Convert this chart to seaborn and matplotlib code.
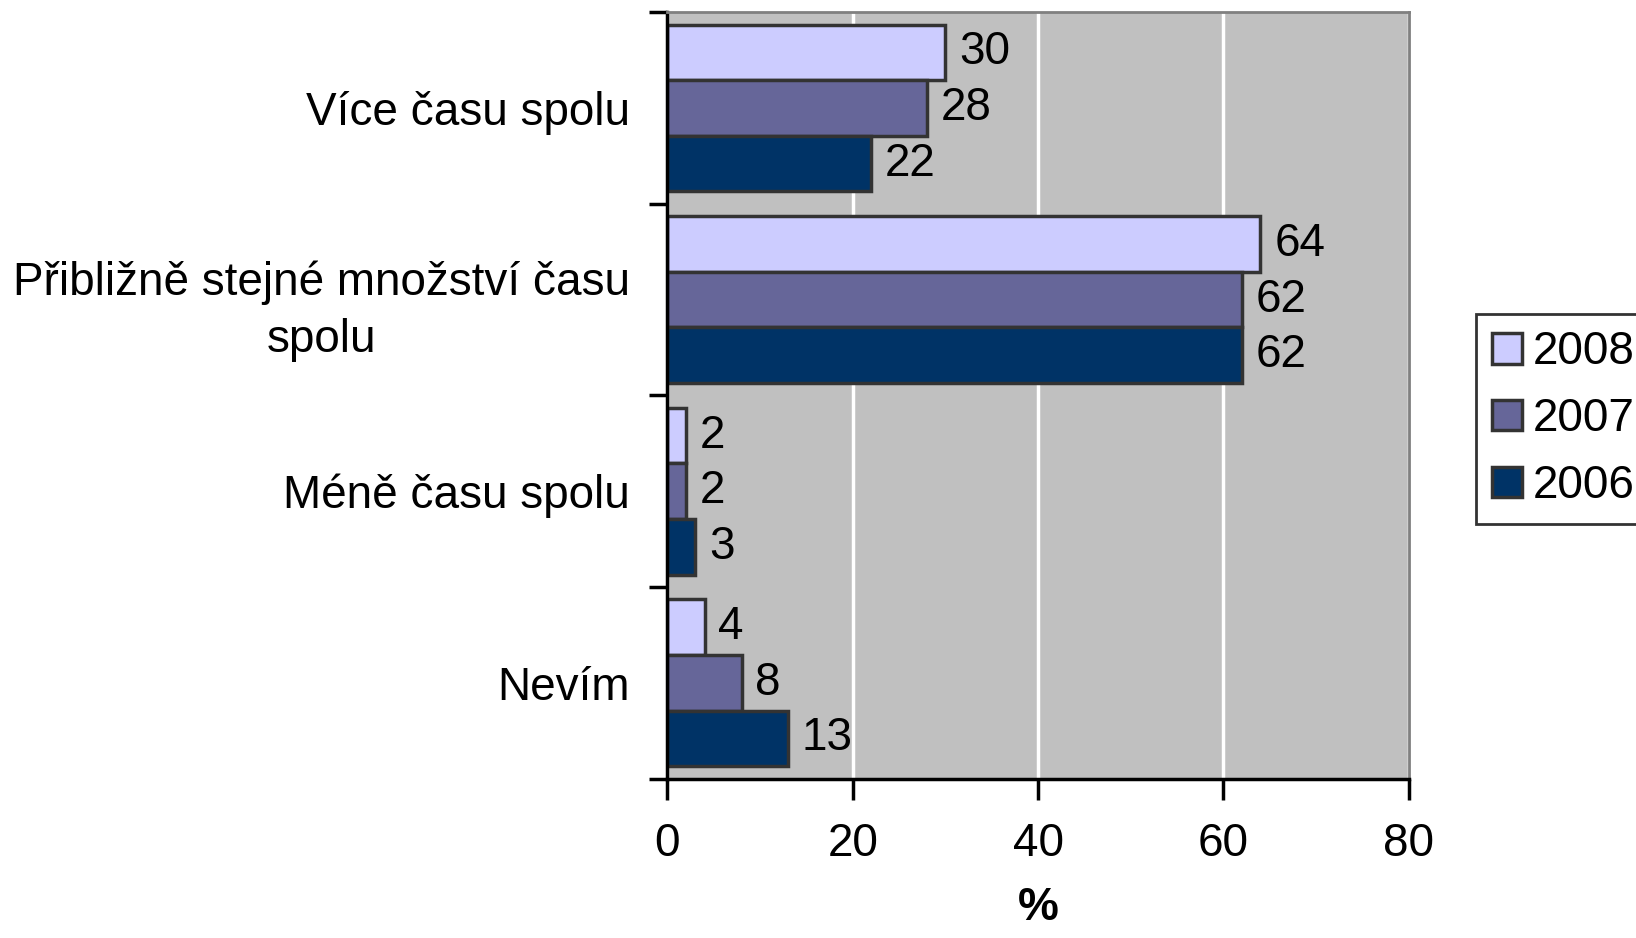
import numpy as np
import pandas as pd
import seaborn as sns
import matplotlib.pyplot as plt

# Data
categories = ['Více času spolu', 'Přibližně stejné množství času\nspolu',
              'Méně času spolu', 'Nevím']
years = ['2008', '2007', '2006']
v2008 = [30, 64, 2, 4]
v2007 = [28, 62, 2, 8]
v2006 = [22, 62, 3, 13]
colors = ['#CCCCFF', '#666699', '#003366']

df = pd.DataFrame({
    'kategorie': categories * 3,
    'rok': np.repeat(years, len(categories)),
    'procent': v2008 + v2007 + v2006,
})

sns.set_theme(style='white')
plt.rcParams['font.family'] = ['Liberation Sans', 'DejaVu Sans']
plt.rcParams.update({'text.color': 'black', 'axes.labelcolor': 'black',
                     'xtick.color': 'black', 'ytick.color': 'black'})
FS = 33

fig = plt.figure(figsize=(16.36, 9.38), dpi=100)
ax = fig.add_axes([0.408, 0.170, 0.453, 0.817])
ax.set_facecolor('#C0C0C0')

sns.barplot(data=df, x='procent', y='kategorie', hue='rok', hue_order=years,
            palette=colors, orient='h', width=0.87, saturation=1,
            edgecolor='#333333', linewidth=2.5, ax=ax)

for cont in ax.containers:
    ax.bar_label(cont, padding=10, fontsize=FS, color='black')

ax.set_xlim(0, 80)
ax.set_xticks([0, 20, 40, 60, 80])
ax.xaxis.grid(True, color='white', linewidth=2.5)
ax.set_axisbelow(True)

# ticks on group boundaries for the category axis
ax.set_yticks(np.arange(-0.5, len(categories), 1), minor=True)
ax.tick_params(axis='y', which='major', length=0, pad=27, labelsize=FS)
ax.tick_params(axis='y', which='minor', left=True, length=13, width=2.5, color='black')
ax.tick_params(axis='x', which='major', bottom=True, length=15, width=2.5,
               color='black', pad=16, labelsize=FS)
for lbl in ax.get_yticklabels():
    lbl.set_multialignment('center')
    lbl.set_linespacing(1.4)

ax.set_ylabel('')
ax.set_xlabel('%', fontsize=FS, fontweight='bold', labelpad=15)

for s in ['left', 'bottom']:
    ax.spines[s].set_color('black')
    ax.spines[s].set_linewidth(2.5)
for s in ['top', 'right']:
    ax.spines[s].set_color('#808080')
    ax.spines[s].set_linewidth(2)

handles, labels = ax.get_legend_handles_labels()
ax.get_legend().remove()
leg = fig.legend(handles, labels, loc='center left', bbox_to_anchor=(0.902, 0.553),
                 borderaxespad=0, fontsize=FS, frameon=True, fancybox=False,
                 edgecolor='black', handlelength=0.65, handleheight=0.65,
                 handletextpad=0.25, labelspacing=0.5, borderpad=0.35)
leg.get_frame().set_linewidth(2)

fig.savefig('out.png', dpi=100)
